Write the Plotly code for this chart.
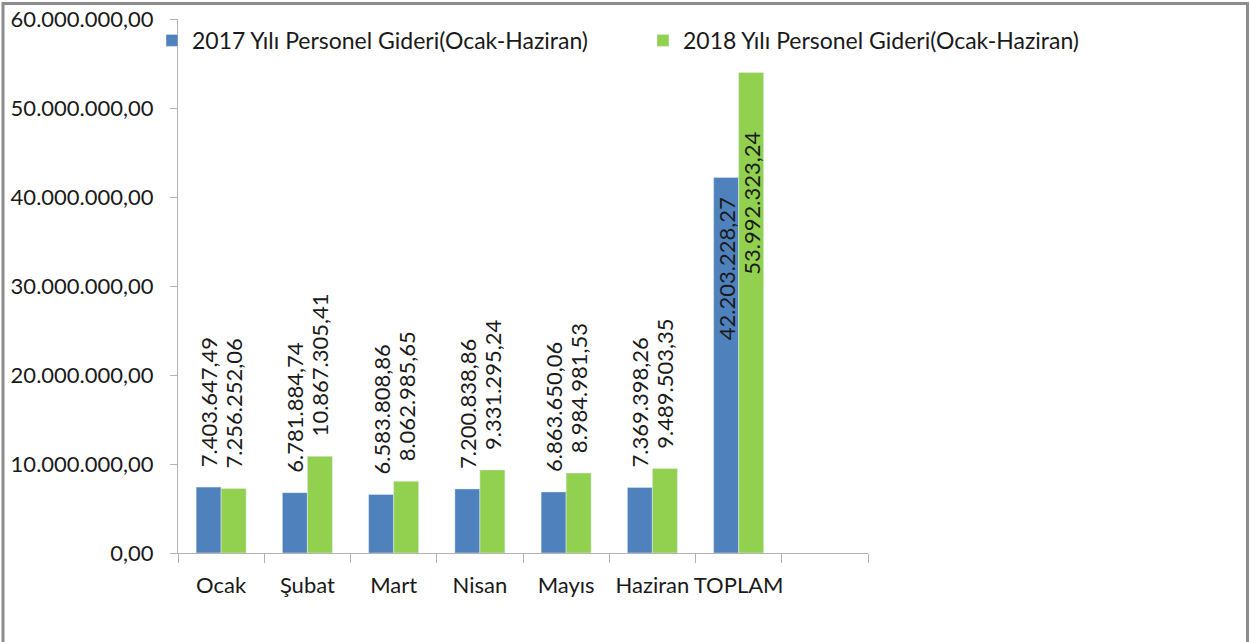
import plotly.graph_objects as go

categories = ["Ocak", "Şubat", "Mart", "Nisan", "Mayıs", "Haziran", "TOPLAM", " "]
series_2017 = [7403647.49, 6781884.74, 6583808.86, 7200838.86, 6863650.06, 7369398.26, 42203228.27, None]
series_2018 = [7256252.06, 10867305.41, 8062985.65, 9331295.24, 8984981.53, 9489503.35, 53992323.24, None]
name_2017 = "2017 Yılı Personel Gideri(Ocak-Haziran)"
name_2018 = "2018 Yılı Personel Gideri(Ocak-Haziran)"
y_tickvals = [0, 10000000, 20000000, 30000000, 40000000, 50000000, 60000000]

W, H = 1250, 642
L, R, T, B = 178, 1250 - 868, 19, 642 - 553
PW, PH = W - L - R, H - T - B

FONT = "Lato"
BLUE = "#4f81bd"
GREEN = "#92d050"
AXIS = "#b3b3b3"
TXT = "#1a1a1a"

NB = "\u00a0"
pos_2017 = ["outside"] * 6 + ["inside", "inside"]
pos_2018 = ["outside"] * 6 + ["inside", "inside"]
tpl_2017 = [NB * 3 + "%{y:,.2f}"] * 6 + ["%{y:,.2f}" + NB * 3, "%{y:,.2f}"]
tpl_2018 = [NB * 3 + "%{y:,.2f}"] * 6 + ["%{y:,.2f}" + NB * 10, "%{y:,.2f}"]

fig = go.Figure()
fig.add_trace(go.Bar(
    x=categories, y=series_2017, name=name_2017, marker_color=BLUE,
    texttemplate=tpl_2017, textposition=pos_2017, textangle=-90,
    insidetextanchor="end", constraintext="none", cliponaxis=False,
    textfont=dict(family=FONT, size=22, color=TXT),
    insidetextfont=dict(family=FONT, size=22, color=TXT),
    outsidetextfont=dict(family=FONT, size=22, color=TXT),
    legend="legend",
))
fig.add_trace(go.Bar(
    x=categories, y=series_2018, name=name_2018, marker_color=GREEN,
    texttemplate=tpl_2018, textposition=pos_2018, textangle=-90,
    insidetextanchor="end", constraintext="none", cliponaxis=False,
    textfont=dict(family=FONT, size=22, color=TXT),
    insidetextfont=dict(family=FONT, size=22, color=TXT),
    outsidetextfont=dict(family=FONT, size=22, color=TXT),
    legend="legend2",
))

legend_common = dict(
    orientation="h", xanchor="left", yanchor="top",
    font=dict(family=FONT, size=23, color=TXT),
    bgcolor="rgba(0,0,0,0)", itemwidth=30,
)

fig.update_layout(
    width=W, height=H,
    margin=dict(l=L, r=R, t=T, b=B, pad=0, autoexpand=False),
    paper_bgcolor="white", plot_bgcolor="white",
    separators=",.",
    barmode="group", bargap=0.42, bargroupgap=0,
    uniformtext=dict(minsize=22, mode="show"),
    font=dict(family=FONT, size=22, color=TXT),
    showlegend=True,
    legend=dict(x=(152 - L) / PW, y=1.0, **legend_common),
    legend2=dict(x=(643 - L) / PW, y=1.0, **legend_common),
    xaxis=dict(
        type="category", categoryorder="array", categoryarray=categories,
        range=[-0.5, 7.5], showline=True, linecolor=AXIS, linewidth=1,
        ticks="outside", tickson="boundaries", ticklen=9, tickcolor=AXIS,
        showgrid=False, zeroline=False, tickangle=0, ticklabelstandoff=13,
        automargin=False,
        tickfont=dict(family=FONT, size=22, color=TXT),
    ),
    yaxis=dict(
        range=[0, 60000000], tickvals=y_tickvals, tickformat=",.2f",
        showline=True, linecolor=AXIS, linewidth=1,
        ticks="outside", ticklen=7, tickcolor=AXIS,
        showgrid=False, zeroline=False, ticklabelstandoff=12,
        automargin=False,
        tickfont=dict(family=FONT, size=22, color=TXT),
    ),
    shapes=[dict(
        type="rect", xref="paper", yref="paper",
        x0=(3 - L) / PW, x1=(1247.5 - L) / PW,
        y0=(553 - 660) / PH, y1=(553 - 3.5) / PH,
        line=dict(color="#8c8c8c", width=3), fillcolor="rgba(0,0,0,0)",
        layer="below",
    )],
)

fig.write_html(
    "out.html",
    config={"displayModeBar": False},
    post_script="document.body.style.margin='0';document.body.style.overflow='hidden';",
)
